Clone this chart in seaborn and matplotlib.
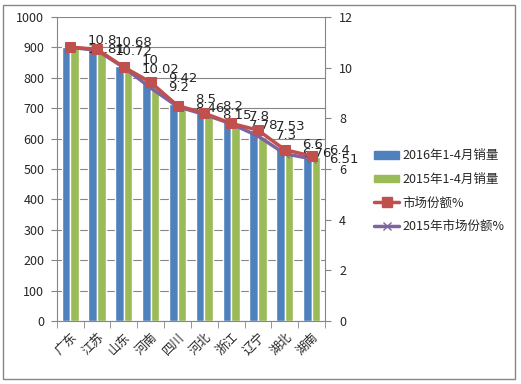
import numpy as np
import pandas as pd
import matplotlib
matplotlib.use('Agg')
import matplotlib.pyplot as plt
import seaborn as sns
from matplotlib.patches import Rectangle, Patch
from matplotlib.lines import Line2D

# 数据
provinces = ['广东', '江苏', '山东', '河南', '四川', '河北', '浙江', '辽宁', '湖北', '湖南']
sales_2016 = [902, 898, 839, 791, 714, 687, 657, 627, 573, 555]
sales_2015 = [899, 888, 829, 774, 705, 675, 650, 605, 551, 539]
share_2016 = [10.81, 10.72, 10.02, 9.42, 8.5, 8.2, 7.8, 7.53, 6.76, 6.51]
share_2015 = [10.8, 10.68, 10, 9.2, 8.46, 8.15, 7.78, 7.3, 6.6, 6.4]

bar_names = ['2016年1-4月销量', '2015年1-4月销量']
line_names = ['市场份额%', '2015年市场份额%']

# which label sits on top in the picture
label_2016_on_top = [False, False, False, True, True, True, True, True, False, False]

blue, green, red, purple = '#4F81BD', '#9BBB59', '#C0504D', '#8064A2'
grey = '#868686'

df = pd.DataFrame({
    'province': provinces * 2,
    'sales': sales_2016 + sales_2015,
    'series': [bar_names[0]] * len(provinces) + [bar_names[1]] * len(provinces),
})

sns.set_style('white')
plt.rcParams['font.family'] = ['Noto Sans CJK SC', 'DejaVu Sans']

fig = plt.figure(figsize=(5.21, 3.84), dpi=100)
ax = fig.add_axes([0.109, 0.164, 0.515, 0.792])

sns.barplot(data=df, x='province', y='sales', hue='series', palette=[blue, green],
            width=0.64, ax=ax, legend=False, saturation=1)
ax.set_ylim(0, 1000)
ax.set_yticks(range(0, 1001, 100))
ax.set_xlim(-0.5, len(provinces) - 0.5)
ax.yaxis.grid(True, color=grey, lw=0.8)
ax.set_axisbelow(True)
ax.set_xlabel('')
ax.set_ylabel('')
for s in ['top', 'right']:
    ax.spines[s].set_visible(False)
for s in ['left', 'bottom']:
    ax.spines[s].set_color(grey)
ax.tick_params(axis='y', left=True, length=4, color=grey, labelsize=9, pad=5)
ax.tick_params(axis='x', bottom=False, labelsize=9, pad=3)
ax.set_xticks(range(len(provinces)))
ax.set_xticklabels(provinces, rotation=45, ha='right', rotation_mode='anchor')
ax.set_xticks(np.arange(-0.5, len(provinces), 1), minor=True)
ax.tick_params(axis='x', which='minor', bottom=True, length=5, color=grey)

ax2 = ax.twinx()
pos = np.arange(len(provinces))
sns.lineplot(x=pos, y=share_2015, ax=ax2, color=purple, lw=2.5, marker='x',
             markersize=6, markeredgecolor=purple, zorder=3)
sns.lineplot(x=pos, y=share_2016, ax=ax2, color=red, lw=2.5, marker='s',
             markersize=7.5, markeredgecolor=red, zorder=4)
ax2.set_ylim(0, 12)
ax2.set_yticks(range(0, 13, 2))
ax2.set_xlim(-0.5, len(provinces) - 0.5)
for s in ['top', 'left', 'bottom']:
    ax2.spines[s].set_visible(False)
ax2.spines['right'].set_color(grey)
ax2.tick_params(axis='y', right=True, length=4, color=grey, labelsize=9, pad=6)

for i, (a, b) in enumerate(zip(share_2016, share_2015)):
    mid = (a + b) / 2
    top, low = (a, b) if label_2016_on_top[i] else (b, a)
    ax2.annotate(f'{top:g}', (i, mid), xytext=(12.5, 5), textcoords='offset points',
                 va='center', ha='left', fontsize=9.5, family='DejaVu Sans')
    ax2.annotate(f'{low:g}', (i, mid), xytext=(12.5, -1.5), textcoords='offset points',
                 va='center', ha='left', fontsize=9.5, family='DejaVu Sans')

handles = [Patch(color=blue), Patch(color=green),
           Line2D([], [], color=red, lw=2.5, marker='s', markersize=7),
           Line2D([], [], color=purple, lw=2.5, marker='x', markersize=6)]
fig.legend(handles, bar_names + line_names, loc='center left',
           bbox_to_anchor=(0.697, 0.502), frameon=False, fontsize=9,
           handlelength=2.0, handleheight=0.6, labelspacing=0.85, handletextpad=0.25)

fig.patches.append(Rectangle((0.006, 0.013), 0.983, 0.975, transform=fig.transFigure,
                             fill=False, edgecolor=grey, lw=1))

fig.savefig('out.png', dpi=100)
